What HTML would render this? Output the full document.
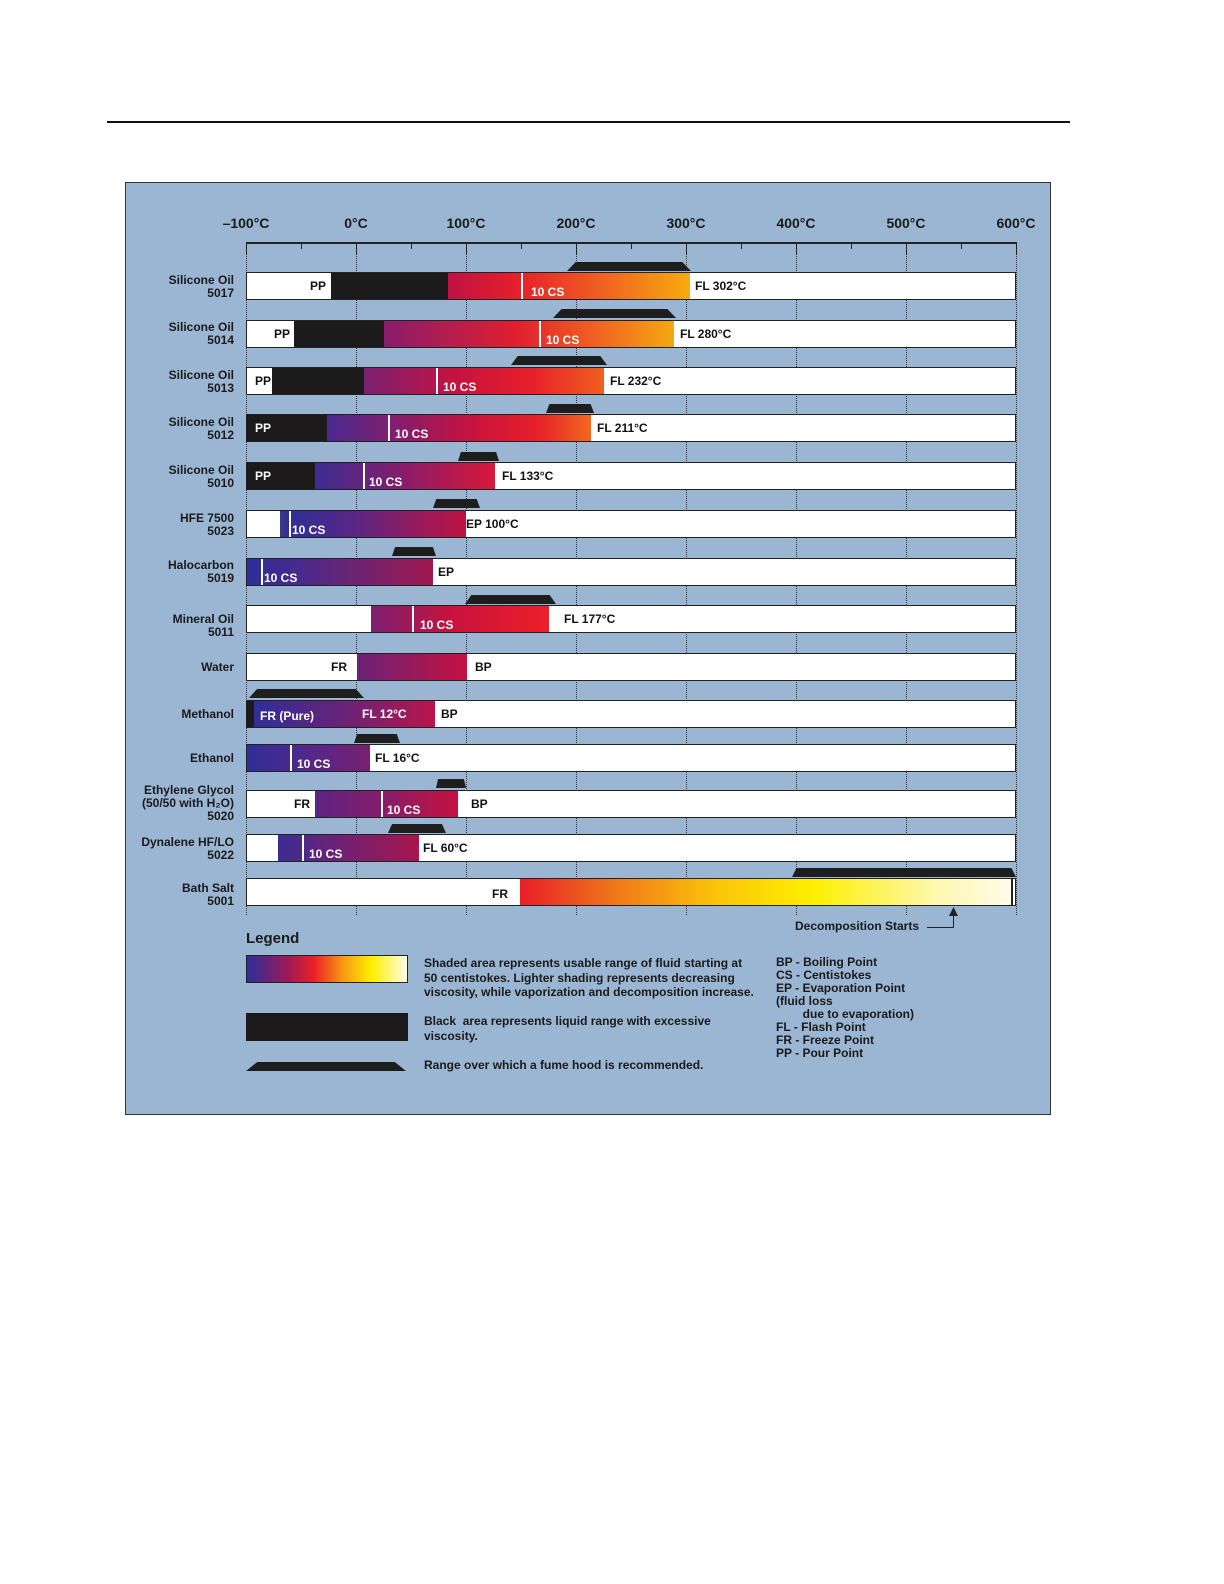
<!DOCTYPE html>
<html><head><meta charset="utf-8"><style>
*{margin:0;padding:0;box-sizing:border-box}
body{width:1224px;height:1584px;background:#fff;position:relative;font-family:"Liberation Sans",Arial,sans-serif;font-weight:bold;color:#1a1a1a;overflow:hidden}
.a{position:absolute}
#panel{left:125px;top:182px;width:926px;height:933px;background:#9bb6d3;border:1px solid #333}
.ax{font-size:14px;top:215px;width:80px;text-align:center}
.vl{width:0;border-left:1px dotted #333;top:243px;height:672px}
.bar{left:246px;width:770px;height:28px;background:#fff;border:1px solid #222}
.s{position:absolute;top:0;height:100%}
.t{position:absolute;font-size:12px;white-space:nowrap;color:#111}
.w{color:#fff}
.ln{position:absolute;top:0;height:100%;width:2px;background:#fff}
.h{height:9px;background:#1e1e1e;clip-path:polygon(7% 0,93% 0,100% 100%,0 100%)}
.lab{position:absolute;right:990px;font-size:12px;text-align:right;line-height:13px;white-space:nowrap}
.lg{font-size:12px;line-height:14.5px;position:absolute}
</style></head><body>
<div class="a" style="left:107px;top:121px;width:963px;height:2px;background:#111"></div>
<div class="a" id="panel"></div>

<div class="a ax" style="left:206px">–100°C</div>
<div class="a ax" style="left:316px">0°C</div>
<div class="a ax" style="left:426px">100°C</div>
<div class="a ax" style="left:536px">200°C</div>
<div class="a ax" style="left:646px">300°C</div>
<div class="a ax" style="left:756px">400°C</div>
<div class="a ax" style="left:866px">500°C</div>
<div class="a ax" style="left:976px">600°C</div>
<div class="a" style="left:246px;top:242px;width:771px;height:1.5px;background:#222"></div>
<div class="a vl" style="left:246px"></div><div class="a vl" style="left:356px"></div><div class="a vl" style="left:466px"></div><div class="a vl" style="left:576px"></div><div class="a vl" style="left:686px"></div><div class="a vl" style="left:796px"></div><div class="a vl" style="left:906px"></div><div class="a vl" style="left:1016px"></div>
<!-- ticks -->
<div class="a" style="left:246px;top:243px;width:1px;height:12px;background:#222"></div>
<div class="a" style="left:356px;top:243px;width:1px;height:12px;background:#222"></div>
<div class="a" style="left:466px;top:243px;width:1px;height:12px;background:#222"></div>
<div class="a" style="left:576px;top:243px;width:1px;height:12px;background:#222"></div>
<div class="a" style="left:686px;top:243px;width:1px;height:12px;background:#222"></div>
<div class="a" style="left:796px;top:243px;width:1px;height:12px;background:#222"></div>
<div class="a" style="left:906px;top:243px;width:1px;height:12px;background:#222"></div>
<div class="a" style="left:1016px;top:243px;width:1px;height:12px;background:#222"></div>
<div class="a" style="left:301px;top:243px;width:1px;height:6px;background:#222"></div>
<div class="a" style="left:411px;top:243px;width:1px;height:6px;background:#222"></div>
<div class="a" style="left:521px;top:243px;width:1px;height:6px;background:#222"></div>
<div class="a" style="left:631px;top:243px;width:1px;height:6px;background:#222"></div>
<div class="a" style="left:741px;top:243px;width:1px;height:6px;background:#222"></div>
<div class="a" style="left:851px;top:243px;width:1px;height:6px;background:#222"></div>
<div class="a" style="left:961px;top:243px;width:1px;height:6px;background:#222"></div>

<!-- hoods -->
<div class="a h" style="left:567px;top:262px;width:124px"></div>
<div class="a h" style="left:553px;top:309px;width:123px"></div>
<div class="a h" style="left:511px;top:356px;width:96px"></div>
<div class="a h" style="left:546px;top:404px;width:48px"></div>
<div class="a h" style="left:458px;top:452px;width:41px"></div>
<div class="a h" style="left:433px;top:499px;width:47px"></div>
<div class="a h" style="left:392px;top:547px;width:44px"></div>
<div class="a h" style="left:465px;top:595px;width:91px"></div>
<div class="a h" style="left:249px;top:689px;width:115px"></div>
<div class="a h" style="left:354px;top:734px;width:46px"></div>
<div class="a h" style="left:436px;top:779px;width:30px"></div>
<div class="a h" style="left:388px;top:824px;width:58px"></div>
<div class="a h" style="left:792px;top:868px;width:224px;clip-path:polygon(2% 0,98% 0,100% 100%,0 100%)"></div>

<!-- row labels -->
<div class="lab" style="top:274px">Silicone Oil<br>5017</div>
<div class="lab" style="top:321px">Silicone Oil<br>5014</div>
<div class="lab" style="top:369px">Silicone Oil<br>5013</div>
<div class="lab" style="top:416px">Silicone Oil<br>5012</div>
<div class="lab" style="top:464px">Silicone Oil<br>5010</div>
<div class="lab" style="top:512px">HFE 7500<br>5023</div>
<div class="lab" style="top:559px">Halocarbon<br>5019</div>
<div class="lab" style="top:613px">Mineral Oil<br>5011</div>
<div class="lab" style="top:661px">Water</div>
<div class="lab" style="top:708px">Methanol</div>
<div class="lab" style="top:752px">Ethanol</div>
<div class="lab" style="top:784px">Ethylene Glycol<br>(50/50 with H₂O)<br>5020</div>
<div class="lab" style="top:836px">Dynalene HF/LO<br>5022</div>
<div class="lab" style="top:882px">Bath Salt<br>5001</div>

<!-- bars: positions relative to bar left 246 (minus 1 border) -->
<div class="a bar" style="top:272px">
 <div class="s" style="left:84px;width:117px;background:#1c1a1b"></div>
 <div class="s" style="left:201px;width:242px;background:linear-gradient(90deg,#c01244,#e8202a 30%,#ef5a22 60%,#f7aa10)"></div>
 <div class="ln" style="left:274px"></div>
 <div class="t" style="left:63px;top:6px">PP</div>
 <div class="t w" style="left:284px;top:12px">10 CS</div>
 <div class="t" style="left:448px;top:6px">FL 302°C</div>
</div>
<div class="a bar" style="top:320px">
 <div class="s" style="left:47px;width:90px;background:#1c1a1b"></div>
 <div class="s" style="left:137px;width:290px;background:linear-gradient(90deg,#8a1c6c,#e01e30 45%,#ef5a22 70%,#f5a812)"></div>
 <div class="ln" style="left:292px"></div>
 <div class="t" style="left:27px;top:6px">PP</div>
 <div class="t w" style="left:299px;top:12px">10 CS</div>
 <div class="t" style="left:433px;top:6px">FL 280°C</div>
</div>
<div class="a bar" style="top:367px">
 <div class="s" style="left:25px;width:92px;background:#1c1a1b"></div>
 <div class="s" style="left:117px;width:240px;background:linear-gradient(90deg,#7a2072,#c8123e 40%,#e8202a 70%,#f0601f)"></div>
 <div class="ln" style="left:189px"></div>
 <div class="t" style="left:8px;top:6px">PP</div>
 <div class="t w" style="left:196px;top:12px">10 CS</div>
 <div class="t" style="left:363px;top:6px">FL 232°C</div>
</div>
<div class="a bar" style="top:414px">
 <div class="s" style="left:0;width:80px;background:#1c1a1b"></div>
 <div class="s" style="left:80px;width:264px;background:linear-gradient(90deg,#482a92,#8c1c66 30%,#c8123e 55%,#e8202a 80%,#f0681f)"></div>
 <div class="ln" style="left:141px"></div>
 <div class="t w" style="left:8px;top:6px">PP</div>
 <div class="t w" style="left:148px;top:12px">10 CS</div>
 <div class="t" style="left:350px;top:6px">FL 211°C</div>
</div>
<div class="a bar" style="top:462px">
 <div class="s" style="left:0;width:68px;background:#1c1a1b"></div>
 <div class="s" style="left:68px;width:180px;background:linear-gradient(90deg,#3a2d94,#8a1c68 50%,#d81838)"></div>
 <div class="ln" style="left:116px"></div>
 <div class="t w" style="left:8px;top:6px">PP</div>
 <div class="t w" style="left:122px;top:12px">10 CS</div>
 <div class="t" style="left:255px;top:6px">FL 133°C</div>
</div>
<div class="a bar" style="top:510px">
 <div class="s" style="left:33px;width:186px;background:linear-gradient(90deg,#3e3a80,#2f2e98 5%,#5a2686 40%,#c0123f)"></div>
 <div class="ln" style="left:42px"></div>
 <div class="t w" style="left:45px;top:12px">10 CS</div>
 <div class="t" style="left:219px;top:6px">EP 100°C</div>
</div>
<div class="a bar" style="top:558px">
 <div class="s" style="left:0;width:186px;background:linear-gradient(90deg,#2c2e9a,#4a2a8c 30%,#a0184e)"></div>
 <div class="ln" style="left:14px"></div>
 <div class="t w" style="left:17px;top:12px">10 CS</div>
 <div class="t" style="left:191px;top:6px">EP</div>
</div>
<div class="a bar" style="top:605px">
 <div class="s" style="left:124px;width:178px;background:linear-gradient(90deg,#7a2072,#c8123e 45%,#ec2028)"></div>
 <div class="ln" style="left:165px"></div>
 <div class="t w" style="left:173px;top:12px">10 CS</div>
 <div class="t" style="left:317px;top:6px">FL 177°C</div>
</div>
<div class="a bar" style="top:653px">
 <div class="s" style="left:110px;width:110px;background:linear-gradient(90deg,#6a2278,#c4123f)"></div>
 <div class="t" style="left:84px;top:6px">FR</div>
 <div class="t" style="left:228px;top:6px">BP</div>
</div>
<div class="a bar" style="top:700px">
 <div class="s" style="left:0;width:7px;background:#1c1a1b"></div>
 <div class="s" style="left:7px;width:181px;background:linear-gradient(90deg,#302e98,#6a2278 50%,#b8164a)"></div>
 <div class="t w" style="left:13px;top:8px">FR (Pure)</div>
 <div class="t w" style="left:115px;top:6px">FL 12°C</div>
 <div class="t" style="left:194px;top:6px">BP</div>
</div>
<div class="a bar" style="top:744px">
 <div class="s" style="left:0;width:123px;background:linear-gradient(90deg,#2e2e96,#5a2686 60%,#7a2070)"></div>
 <div class="ln" style="left:43px"></div>
 <div class="t w" style="left:50px;top:12px">10 CS</div>
 <div class="t" style="left:128px;top:6px">FL 16°C</div>
</div>
<div class="a bar" style="top:790px">
 <div class="s" style="left:68px;width:143px;background:linear-gradient(90deg,#5a2482,#8a1c68 50%,#c4123f)"></div>
 <div class="ln" style="left:134px"></div>
 <div class="t" style="left:47px;top:6px">FR</div>
 <div class="t w" style="left:140px;top:12px">10 CS</div>
 <div class="t" style="left:224px;top:6px">BP</div>
</div>
<div class="a bar" style="top:834px">
 <div class="s" style="left:31px;width:141px;background:linear-gradient(90deg,#3a2d92,#6a2278 40%,#a8164c)"></div>
 <div class="ln" style="left:55px"></div>
 <div class="t w" style="left:62px;top:12px">10 CS</div>
 <div class="t" style="left:176px;top:6px">FL 60°C</div>
</div>
<div class="a bar" style="top:878px">
 <div class="s" style="left:273px;width:491px;background:linear-gradient(90deg,#e81e2a,#f07a1a 20%,#fcc40a 40%,#fff000 60%,#fef8b0 85%,#fffbe8)"></div>
 <div class="s" style="left:764px;width:2px;background:#222"></div>
 <div class="t" style="left:245px;top:8px">FR</div>
</div>

<div class="a" style="left:795px;top:919px;font-size:12px">Decomposition Starts</div>
<div class="a" style="left:927px;top:927px;width:27px;height:1px;background:#222"></div>
<div class="a" style="left:953px;top:912px;width:1px;height:16px;background:#222"></div>
<div class="a" style="left:949px;top:907px;width:9px;height:9px;background:#222;clip-path:polygon(50% 0,100% 100%,0 100%)"></div>

<div class="a" style="left:246px;top:930px;font-size:15px">Legend</div>
<div class="a" style="left:246px;top:955px;width:162px;height:28px;border:1px solid #222;background:linear-gradient(90deg,#2c2e9a,#9a1a58 25%,#ec2028 42%,#f79a12 60%,#fff000 78%,#fffbe8)"></div>
<div class="a" style="left:246px;top:1013px;width:162px;height:28px;background:#1c1a1b"></div>
<div class="a h" style="left:246px;top:1062px;width:160px"></div>
<div class="lg" style="left:424px;top:956px">Shaded area represents usable range of fluid starting at<br>50 centistokes. Lighter shading represents decreasing<br>viscosity, while vaporization and decomposition increase.</div>
<div class="lg" style="left:424px;top:1014px">Black&nbsp; area represents liquid range with excessive<br>viscosity.</div>
<div class="lg" style="left:424px;top:1058px">Range over which a fume hood is recommended.</div>
<div class="lg" style="left:776px;top:956px;line-height:13px">BP - Boiling Point<br>CS - Centistokes<br>EP - Evaporation Point<br>(fluid loss<br>&nbsp;&nbsp;&nbsp;&nbsp;&nbsp;&nbsp;&nbsp;&nbsp;due to evaporation)<br>FL - Flash Point<br>FR - Freeze Point<br>PP - Pour Point</div>
</body></html>
